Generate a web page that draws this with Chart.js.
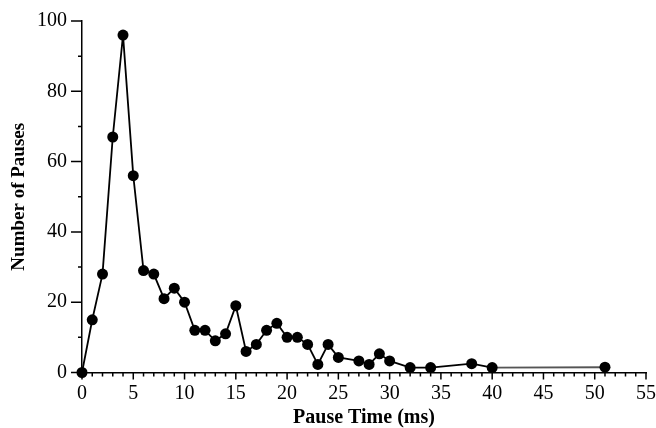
<!DOCTYPE html>
<html>
<head>
<meta charset="utf-8">
<script src="https://cdn.jsdelivr.net/npm/chart.js@4/dist/chart.umd.min.js"></script>
<style>
  html, body { margin: 0; padding: 0; background: #fff; }
  #wrap { width: 656px; height: 428px; }
</style>
</head>
<body>
<div id="wrap"><canvas id="pauseChart" width="656" height="428"></canvas></div>
<script>
// pause time (ms) vs number of pauses
const pauseTimes = [0, 1, 2, 3, 4, 5, 6, 7, 8, 9, 10, 11, 12, 13, 14, 15, 16, 17, 18, 19, 20,
  21, 22, 23, 24, 25, 27, 28, 29, 30, 32, 34, 38, 40, 51];
const pauseCounts = [0, 15, 28, 67, 96, 56, 29, 28, 21, 24, 20, 12, 12, 9, 11, 19, 6, 8, 12, 14, 10,
  10, 8, 2.3, 8, 4.3, 3.3, 2.3, 5.3, 3.3, 1.4, 1.4, 2.5, 1.4, 1.5];

const xTicks = [0, 5, 10, 15, 20, 25, 30, 35, 40, 45, 50, 55];
const yTicks = [0, 20, 40, 60, 80, 100];

const serif = "'Liberation Serif', 'Times New Roman', serif";

// major + minor tick marks, placed through the chart's own scales
const tickMarks = {
  id: "tickMarks",
  afterDraw(chart) {
    const { ctx, scales: { x, y } } = chart;
    ctx.save();
    ctx.strokeStyle = "#000";
    ctx.lineWidth = 1.5;
    ctx.beginPath();
    for (let v = x.min; v <= x.max; v++) {
      const px = x.getPixelForValue(v);
      const len = v % 5 === 0 ? 7 : 4;
      ctx.moveTo(px, x.top);
      ctx.lineTo(px, x.top + len);
    }
    for (let v = y.min; v <= y.max; v += 10) {
      const py = y.getPixelForValue(v);
      const len = v % 20 === 0 ? 11 : 4;
      ctx.moveTo(y.right, py);
      ctx.lineTo(y.right - len, py);
    }
    ctx.stroke();
    ctx.restore();
  }
};

const ctx = document.getElementById("pauseChart").getContext("2d");
new Chart(ctx, {
  type: "line",
  data: {
    datasets: [{
      data: pauseTimes.map((t, i) => ({ x: t, y: pauseCounts[i] })),
      borderColor: "#000",
      borderWidth: 1.8,
      backgroundColor: "#000",
      pointRadius: 5.5,
      pointBorderWidth: 0,
      tension: 0,
      clip: false,
      segment: {
        borderColor: c => (c.p1.parsed.x === 51 ? "#555" : "#000")
      }
    }]
  },
  plugins: [tickMarks],
  options: {
    responsive: false,
    animation: false,
    layout: { padding: { top: 21, right: 10, left: 0, bottom: 0 } },
    plugins: { legend: { display: false }, tooltip: { enabled: false } },
    scales: {
      x: {
        type: "linear",
        min: 0,
        max: 55,
        afterBuildTicks: s => { s.ticks = xTicks.map(v => ({ value: v })); },
        afterFit: s => { s.height = 55.5; s.paddingLeft = 0; s.paddingRight = 0; },
        grid: { display: false },
        border: { display: true, color: "#000", width: 1.5 },
        ticks: { color: "#000", font: { family: serif, size: 20 }, padding: 1, maxRotation: 0 },
        title: {
          display: true,
          text: "Pause Time (ms)",
          color: "#000",
          font: { family: serif, size: 20, weight: "bold", lineHeight: 1 },
          padding: { top: 0, bottom: 0.5 }
        }
      },
      y: {
        min: 0,
        max: 100,
        afterBuildTicks: s => { s.ticks = yTicks.map(v => ({ value: v })); },
        afterFit: s => { s.width = 82; s.paddingTop = 0; s.paddingBottom = 0; },
        grid: { display: false },
        border: { display: true, color: "#000", width: 1.5 },
        ticks: { color: "#000", font: { family: serif, size: 20 }, padding: 7 },
        title: {
          display: true,
          text: "Number of Pauses",
          color: "#000",
          font: { family: serif, size: 19, weight: "bold", lineHeight: 1 },
          padding: { top: 9.5, bottom: 0 }
        }
      }
    }
  }
});
</script>
</body>
</html>
